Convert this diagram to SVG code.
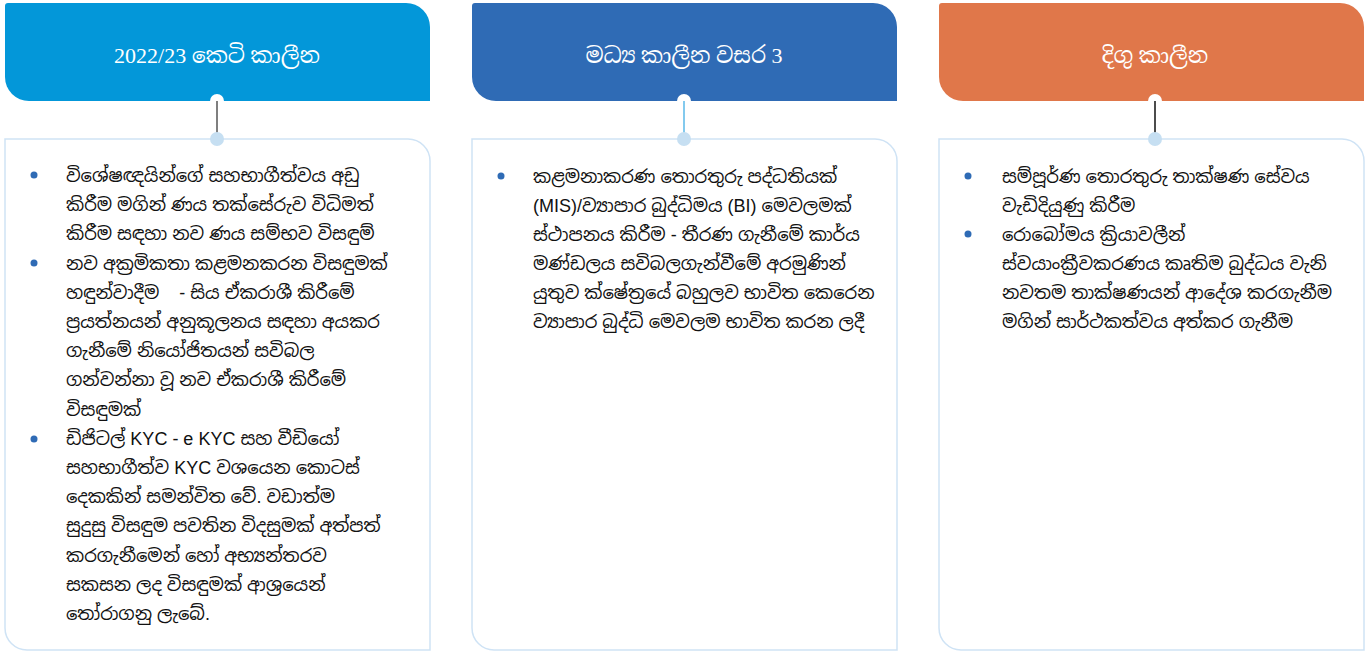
<svg xmlns="http://www.w3.org/2000/svg" width="1368" height="652" viewBox="0 0 1368 652">
<style>
.hd{font-family:"Liberation Serif","Noto Serif Sinhala","Noto Sans Sinhala",serif;font-size:22px;fill:#ffffff;text-anchor:middle}
.bx{fill:#ffffff;stroke:#cfe3f5;stroke-width:1.5}
.tx{font-family:"Liberation Sans","Noto Sans Sinhala","Noto Sans",sans-serif;font-size:18px;fill:#111111}
.bl{fill:#2f6bb5}
.wc{fill:#ffffff}
.lc{fill:#c6dff2}
</style>
<g id="box1">
<path d="M8,3 H406 A24,24 0 0 1 430,27 V101 H29 A24,24 0 0 1 5,77 V6 A3,3 0 0 1 8,3 Z" fill="#0397d9"/>
<text class="hd" x="217" y="63">2022/23 කෙටි කාලීන</text>
<path class="bx" d="M5,139 H408 A22,22 0 0 1 430,161 V650 H27 A22,22 0 0 1 5,628 Z"/>
<circle class="bl" cx="34" cy="175" r="3.5"/>
<circle class="bl" cx="34" cy="263" r="3.5"/>
<circle class="bl" cx="34" cy="439" r="3.5"/>
<g class="tx">
<text x="66" y="182">විශේෂඥයින්ගේ සහභාගීත්වය අඩු</text>
<text x="66" y="211">කිරීම මගින් ණය තක්සේරුව විධිමත්</text>
<text x="66" y="240">කිරීම සඳහා නව ණය සම්භව විසඳුම්</text>
<text x="66" y="270">නව අක්‍රමිකතා කළමනකරන විසඳුමක්</text>
<text x="66" y="299" xml:space="preserve">හඳුන්වාදීම    - සිය ඒකරාශී කිරීමේ</text>
<text x="66" y="328">ප්‍රයත්නයන් අනුකූලනය සඳහා අයකර</text>
<text x="66" y="357">ගැනීමේ නියෝජිතයන් සවිබල</text>
<text x="66" y="386">ගන්වන්නා වූ නව ඒකරාශී කිරීමේ</text>
<text x="66" y="416">විසඳුමක්</text>
<text x="66" y="445">ඩිජිටල් KYC - e KYC සහ වීඩියෝ</text>
<text x="66" y="474">සහභාගීත්ව KYC වශයෙන කොටස්</text>
<text x="66" y="503">දෙකකින් සමන්විත වේ. වඩාත්ම</text>
<text x="66" y="532">සුදුසු විසඳුම පවතින විදසුමක් අත්පත්</text>
<text x="66" y="562">කරගැනීමෙන් හෝ අභ්‍යන්තරව</text>
<text x="66" y="591">සකසන ලද විසඳුමක් ආශ්‍රයෙන්</text>
<text x="66" y="620">තෝරාගනු ලැබේ.</text>
</g>
</g>
<g id="box2">
<path d="M475,3 H873 A24,24 0 0 1 897,27 V101 H496 A24,24 0 0 1 472,77 V6 A3,3 0 0 1 475,3 Z" fill="#2f6bb5"/>
<text class="hd" x="684" y="63">මධ්‍ය කාලීන වසර 3</text>
<path class="bx" d="M472,139 H875 A22,22 0 0 1 897,161 V650 H494 A22,22 0 0 1 472,628 Z"/>
<circle class="bl" cx="501" cy="176" r="3.5"/>
<g class="tx">
<text x="533" y="183">කළමනාකරණ තොරතුරු පද්ධතියක්</text>
<text x="533" y="212">(MIS)/ව්‍යාපාර බුද්ධිමය (BI) මෙවලමක්</text>
<text x="533" y="241">ස්ථාපනය කිරීම - තීරණ ගැනීමේ කාර්ය</text>
<text x="533" y="270">මණ්ඩලය සවිබලගැන්වීමේ අරමුණින්</text>
<text x="533" y="299">යුතුව ක්ෂේත්‍රයේ බහුලව භාවිත කෙරෙන</text>
<text x="533" y="328">ව්‍යාපාර බුද්ධි මෙවලම භාවිත කරන ලදී</text>
</g>
</g>
<g id="box3">
<path d="M942,3 H1340 A24,24 0 0 1 1364,27 V101 H963 A24,24 0 0 1 939,77 V6 A3,3 0 0 1 942,3 Z" fill="#e0774a"/>
<text class="hd" x="1155" y="63">දිගු කාලීන</text>
<path class="bx" d="M939,139 H1342 A22,22 0 0 1 1364,161 V650 H961 A22,22 0 0 1 939,628 Z"/>
<circle class="bl" cx="968" cy="176" r="3.5"/>
<circle class="bl" cx="968" cy="234" r="3.5"/>
<g class="tx">
<text x="1002" y="183">සම්පූර්ණ තොරතුරු තාක්ෂණ සේවය</text>
<text x="1002" y="212">වැඩිදියුණු කිරීම</text>
<text x="1002" y="241">රොබෝමය ක්‍රියාවලීන්</text>
<text x="1002" y="270">ස්වයාංක්‍රීවකරණය කෘතිම බුද්ධය වැනි</text>
<text x="1002" y="299">නවතම තාක්ෂණයන් ආදේශ කරගැනීම</text>
<text x="1002" y="328">මගින් සාර්ථකත්වය අත්කර ගැනීම</text>
</g>
</g>
<g id="connectors">
<circle class="wc" cx="217" cy="101" r="7"/>
<line x1="217" y1="101" x2="217" y2="134" stroke="#555555" stroke-width="1.5"/>
<circle class="lc" cx="217" cy="139" r="7"/>
<circle class="wc" cx="684" cy="101" r="7"/>
<line x1="684" y1="101" x2="684" y2="134" stroke="#5ab8e8" stroke-width="1.5"/>
<circle class="lc" cx="684" cy="139" r="7"/>
<circle class="wc" cx="1155" cy="101" r="7"/>
<line x1="1155" y1="101" x2="1155" y2="134" stroke="#111111" stroke-width="1.5"/>
<circle class="lc" cx="1155" cy="139" r="7"/>
</g>
</svg>
